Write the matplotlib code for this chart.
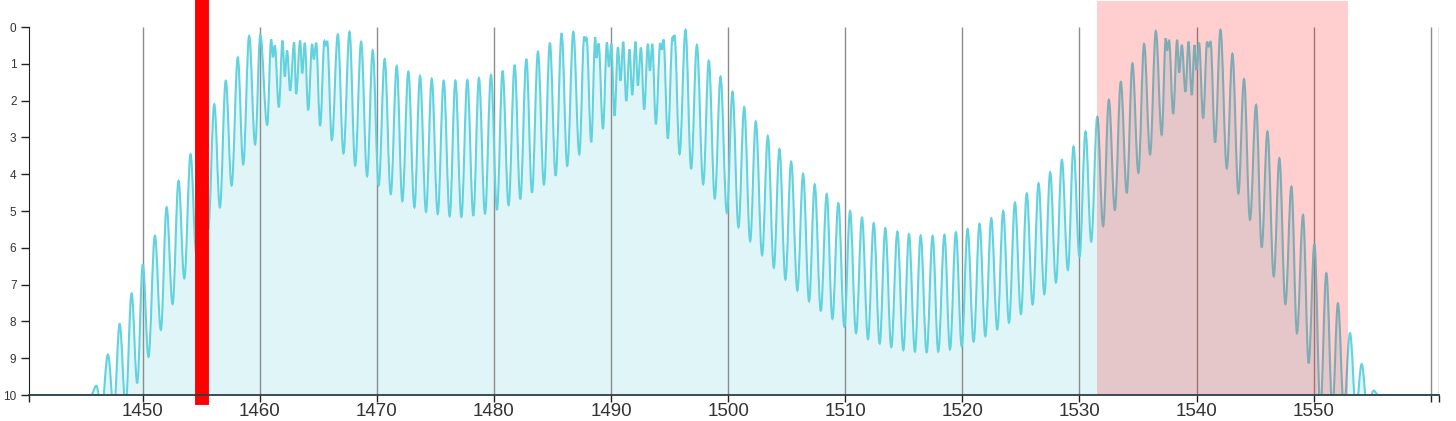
import numpy as np
import matplotlib.pyplot as plt
from matplotlib.path import Path
from matplotlib.patches import PathPatch

# fringe extrema (wavelength nm, loss dB), peaks and troughs in turn
wavelength = [
    1440.3, 1445.6, 1446.05, 1446.5, 1447.04, 1447.55, 1448.04, 1448.55, 1449.06, 1449.54,
    1450.02, 1450.5, 1451.05, 1451.56, 1452.05, 1452.56, 1453.07, 1453.56, 1454.1, 1454.58,
    1455.1, 1455.6, 1456.12, 1456.6, 1457.1, 1457.6, 1458.13, 1458.59, 1459.1, 1459.61,
    1460.05, 1460.64, 1460.98, 1461.14, 1461.29, 1461.63, 1461.95, 1462.14, 1462.34, 1462.6,
    1462.94, 1463.11, 1463.45, 1463.63, 1463.85, 1464.14, 1464.48, 1464.62, 1464.82, 1465.16,
    1465.53, 1465.65, 1465.76, 1466.16, 1466.67, 1467.15, 1467.67, 1468.15, 1468.66, 1469.17,
    1469.65, 1470.16, 1470.67, 1471.19, 1471.7, 1472.18, 1472.69, 1473.21, 1473.69, 1474.2,
    1474.69, 1475.2, 1475.71, 1476.22, 1476.71, 1477.22, 1477.73, 1478.24, 1478.72, 1479.24,
    1479.75, 1480.26, 1480.74, 1481.25, 1481.77, 1482.25, 1482.77, 1483.25, 1483.76, 1484.27,
    1484.78, 1485.27, 1485.78, 1486.26, 1486.78, 1487.29, 1487.71, 1487.83, 1487.91, 1488.31,
    1488.65, 1488.76, 1488.94, 1489.31, 1489.65, 1489.82, 1490.02, 1490.3, 1490.59, 1490.81,
    1491.04, 1491.3, 1491.58, 1491.81, 1492.09, 1492.29, 1492.55, 1492.83, 1493.15, 1493.32,
    1493.52, 1493.83, 1494.2, 1494.34, 1494.48, 1494.85, 1495.25, 1495.33, 1495.42, 1495.85,
    1496.36, 1496.84, 1497.33, 1497.87, 1498.35, 1498.86, 1499.35, 1499.89, 1500.37, 1500.88,
    1501.37, 1501.88, 1502.36, 1502.9, 1503.39, 1503.9, 1504.38, 1504.89, 1505.38, 1505.91,
    1506.4, 1506.91, 1507.39, 1507.91, 1508.42, 1508.9, 1509.41, 1509.92, 1510.41, 1510.92,
    1511.43, 1511.94, 1512.43, 1512.94, 1513.42, 1513.93, 1514.45, 1514.96, 1515.44, 1515.95,
    1516.44, 1516.95, 1517.46, 1517.94, 1518.47, 1518.94, 1519.45, 1519.94, 1520.45, 1520.96,
    1521.47, 1521.96, 1522.47, 1522.98, 1523.49, 1523.98, 1524.49, 1525.0, 1525.5, 1526.0,
    1526.51, 1527.0, 1527.5, 1527.99, 1528.5, 1529.01, 1529.49, 1530.0, 1530.52, 1531.0,
    1531.52, 1532.02, 1532.51, 1533.02, 1533.53, 1534.04, 1534.52, 1535.03, 1535.52, 1536.03,
    1536.52, 1537.02, 1537.37, 1537.48, 1537.65, 1538.0, 1538.34, 1538.51, 1538.74, 1539.05,
    1539.31, 1539.59, 1539.82, 1539.99, 1540.21, 1540.56, 1540.9, 1541.02, 1541.19, 1541.58,
    1542.04, 1542.58, 1543.06, 1543.57, 1544.05, 1544.56, 1545.08, 1545.56, 1546.05, 1546.59,
    1547.07, 1547.58, 1548.1, 1548.57, 1549.09, 1549.57, 1550.06, 1550.57, 1551.08, 1551.6,
    1552.07, 1552.58, 1553.1, 1553.61, 1554.1, 1554.58, 1555.12, 1555.5, 1560.7,
]
loss_db = [
    10.0, 10.0, 9.75, 10.4, 8.9, 10.4, 8.07, 10.3, 7.24, 9.68,
    6.45, 8.96, 5.67, 8.23, 4.9, 7.53, 4.18, 6.83, 3.46, 6.15,
    2.75, 5.5, 2.1, 4.9, 1.46, 4.31, 0.83, 3.73, 0.24, 3.19,
    0.22, 2.66, 0.34, 0.82, 0.5, 2.18, 0.37, 1.35, 0.64, 1.73,
    0.42, 1.82, 0.37, 1.26, 0.43, 2.26, 0.46, 0.88, 0.43, 2.69,
    0.38, 0.5, 0.38, 3.07, 0.2, 3.43, 0.13, 3.76, 0.4, 4.05,
    0.64, 4.31, 0.87, 4.54, 1.06, 4.73, 1.21, 4.9, 1.33, 5.02,
    1.41, 5.08, 1.46, 5.14, 1.46, 5.16, 1.44, 5.13, 1.39, 5.07,
    1.3, 4.97, 1.19, 4.84, 1.03, 4.68, 0.87, 4.5, 0.67, 4.28,
    0.43, 4.04, 0.17, 3.77, 0.13, 3.46, 0.26, 0.37, 0.3, 3.13,
    0.28, 0.84, 0.45, 2.77, 0.42, 1.08, 0.46, 2.41, 0.55, 1.46,
    0.4, 2.01, 0.61, 1.85, 0.4, 1.59, 0.56, 2.24, 0.46, 1.19,
    0.46, 2.64, 0.44, 0.62, 0.34, 3.03, 0.28, 0.35, 0.22, 3.45,
    0.08, 3.86, 0.49, 4.27, 0.92, 4.66, 1.35, 5.05, 1.76, 5.44,
    2.18, 5.82, 2.57, 6.2, 2.96, 6.54, 3.32, 6.86, 3.66, 7.16,
    3.99, 7.45, 4.28, 7.71, 4.54, 7.93, 4.79, 8.14, 5.0, 8.32,
    5.18, 8.48, 5.33, 8.6, 5.47, 8.7, 5.56, 8.78, 5.63, 8.82,
    5.67, 8.84, 5.68, 8.82, 5.65, 8.76, 5.58, 8.67, 5.49, 8.55,
    5.35, 8.4, 5.2, 8.22, 5.0, 8.03, 4.77, 7.8, 4.52, 7.54,
    4.25, 7.26, 3.95, 6.94, 3.61, 6.6, 3.25, 6.24, 2.84, 5.83,
    2.44, 5.41, 1.98, 4.97, 1.49, 4.5, 0.99, 3.96, 0.46, 3.46,
    0.11, 2.93, 0.31, 0.64, 0.37, 2.36, 0.35, 1.24, 0.49, 1.76,
    0.4, 1.85, 0.49, 1.17, 0.43, 2.48, 0.4, 0.53, 0.4, 3.14,
    0.08, 3.84, 0.73, 4.52, 1.42, 5.24, 2.12, 5.99, 2.84, 6.77,
    3.57, 7.53, 4.34, 8.32, 5.11, 9.14, 5.9, 10.4, 6.69, 10.4,
    7.51, 10.4, 8.32, 10.4, 9.16, 10.4, 9.88, 10.0, 10.0,
]

x_ticks = [1450, 1460, 1470, 1480, 1490, 1500, 1510, 1520, 1530, 1540, 1550, 1560]
y_ticks = [0, 1, 2, 3, 4, 5, 6, 7, 8, 9, 10]
x_start, x_end = 1440.3, 1560.7
marker_wl = 1455.05
band_lo, band_hi = 1531.5, 1552.9

line_color = "#62d3de"
fill_color = "#e0f5f8"


def smooth_path(xs, ys, base=None):
    # cubic bezier between extrema, flat tangents at each peak / trough
    verts = [(xs[0], ys[0])]
    codes = [Path.MOVETO]
    for x0, y0, x1, y1 in zip(xs[:-1], ys[:-1], xs[1:], ys[1:]):
        d = (x1 - x0) * 0.364
        verts += [(x0 + d, y0), (x1 - d, y1), (x1, y1)]
        codes += [Path.CURVE4] * 3
    if base is not None:
        verts += [(xs[-1], base), (xs[0], base), (xs[0], ys[0])]
        codes += [Path.LINETO, Path.LINETO, Path.CLOSEPOLY]
    return Path(verts, codes)


fig = plt.figure(figsize=(14.56, 4.21), dpi=100)
ax = fig.add_axes([29 / 1456, 26 / 421, 1410 / 1456, 394 / 421])
ax.set_xlim(x_start, x_end)
ax.set_ylim(10, -26 / 36.8)

ax.add_patch(PathPatch(smooth_path(wavelength, loss_db, base=11), facecolor=fill_color,
                       edgecolor="none", zorder=1))
ax.vlines(x_ticks + [x_end], 0, 10, color="#8c8c8c", lw=1, zorder=2)
ax.add_patch(PathPatch(smooth_path(wavelength, loss_db), facecolor="none",
                       edgecolor=line_color, lw=1.5, zorder=3))

ax.axvspan(band_lo, band_hi, color="red", alpha=0.19, lw=0, zorder=4)
ax.axvline(marker_wl, ymin=-0.008, ymax=1.003, color="red", lw=10, clip_on=False, zorder=5)

for s in ["top", "right"]:
    ax.spines[s].set_visible(False)
ax.spines["left"].set_bounds(0, 10)
ax.spines["left"].set_color("#222222")
ax.spines["bottom"].set_color("#2b3f44")
ax.spines["bottom"].set_linewidth(1.3)
ax.spines["bottom"].set_zorder(6)

ax.set_yticks(y_ticks)
ax.set_yticklabels([str(v) for v in y_ticks], fontsize=8.5, color="#333333",
                   family="Liberation Sans")
ax.set_xticks([x_start] + x_ticks + [x_end])
ax.set_xticklabels([""] + [str(v) for v in x_ticks[:-1]] + ["", ""], fontsize=13.5,
                   color="#333333", family="Liberation Sans")
ax.tick_params(axis="y", length=6, width=1, color="#222222", pad=3)
ax.tick_params(axis="x", length=5, width=1, color="#222222", pad=1)

fig.savefig("out.png", dpi=100)
